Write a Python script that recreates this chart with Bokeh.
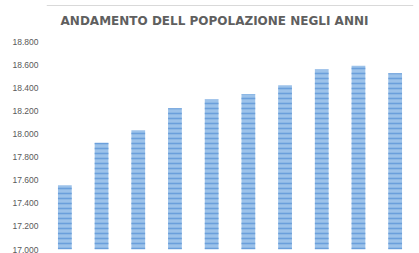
from bokeh.plotting import figure
from bokeh.models import ColumnDataSource, FixedTicker, Range1d, Label, Span
from bokeh.embed import file_html
from bokeh.resources import INLINE

# Data
anni = ["2009", "2010", "2011", "2012", "2013", "2014", "2015", "2016", "2017", "2018"]
popolazione = [17558, 17929, 18036, 18228, 18306, 18352, 18428, 18567, 18598, 18532]
tick_values = [17000, 17200, 17400, 17600, 17800, 18000, 18200, 18400, 18600, 18800]
tick_labels = ["17.000", "17.200", "17.400", "17.600", "17.800",
               "18.000", "18.200", "18.400", "18.600", "18.800"]
titolo = "ANDAMENTO DELL POPOLAZIONE NEGLI ANNI"

source = ColumnDataSource(data=dict(anni=anni, popolazione=popolazione))

p = figure(
    x_range=anni,
    y_range=Range1d(17000, 19165),
    width=419, height=253,
    output_backend="svg",
    toolbar_location=None,
    min_border_left=46, min_border_right=6,
    min_border_top=0, min_border_bottom=4,
)
p.outline_line_color = None
p.background_fill_color = "white"
p.border_fill_color = "white"

p.vbar(
    x="anni", top="popolazione", bottom=17000, width=0.375, source=source,
    fill_color="#9CC2EA", line_color=None,
    hatch_pattern="horizontal_line", hatch_color="#6399D8",
    hatch_scale=5, hatch_weight=1.6, hatch_alpha=0.85,
)

p.xaxis.visible = False
p.xgrid.grid_line_color = None
p.ygrid.grid_line_color = None

yax = p.yaxis[0]
yax.ticker = FixedTicker(ticks=tick_values)
yax.major_label_overrides = {v: l for v, l in zip(tick_values, tick_labels)}
yax.axis_line_color = None
yax.major_tick_line_color = None
yax.minor_tick_line_color = None
yax.major_tick_out = 0
yax.major_tick_in = 0
yax.major_label_standoff = 8
yax.major_label_text_font = "Liberation Sans"
yax.major_label_text_font_size = "8.5px"
yax.major_label_text_color = "#595959"

# chart-area border (light grey) at top
top_border = Span(location=244, location_units="screen", dimension="width",
                  line_color="#D9D9D9", line_width=1)
p.add_layout(top_border)

title_label = Label(
    x=168, y=229, x_units="screen", y_units="screen",
    text=titolo, text_align="center", text_baseline="middle",
    text_font="DejaVu Sans", text_font_size="12px", text_font_style="bold",
    text_color="#5F5F5F",
)
p.add_layout(title_label)

open("out.html", "w").write(file_html(p, INLINE))
